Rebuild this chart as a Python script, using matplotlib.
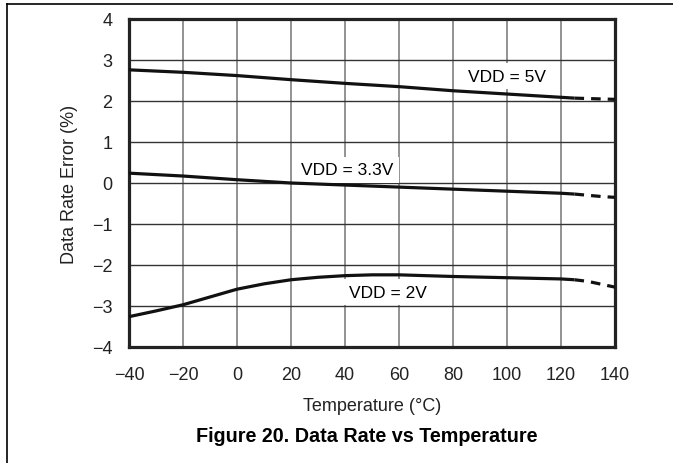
import matplotlib
matplotlib.use("Agg")
import matplotlib.pyplot as plt
from matplotlib.lines import Line2D

plt.rcParams['font.family'] = ['Liberation Sans', 'DejaVu Sans']

# measured data rate error (%) vs temperature (C)
temp_5v = [-40, -20, 0, 20, 40, 60, 80, 100, 120, 125]
err_5v = [2.76, 2.70, 2.62, 2.52, 2.43, 2.35, 2.25, 2.17, 2.09, 2.07]
temp_5v_ext = [125, 140]
err_5v_ext = [2.07, 2.04]

temp_33v = [-40, -20, 0, 20, 40, 60, 80, 100, 120, 125]
err_33v = [0.24, 0.17, 0.08, 0.0, -0.05, -0.10, -0.15, -0.20, -0.25, -0.27]
temp_33v_ext = [125, 130, 135, 140]
err_33v_ext = [-0.27, -0.30, -0.33, -0.35]

temp_2v = [-40, -30, -20, -10, 0, 10, 20, 30, 40, 50, 60, 70, 80, 100, 120, 125]
err_2v = [-3.26, -3.12, -2.97, -2.78, -2.59, -2.46, -2.36, -2.30, -2.26,
          -2.24, -2.24, -2.26, -2.28, -2.31, -2.34, -2.36]
temp_2v_ext = [125, 130, 135, 140]
err_2v_ext = [-2.36, -2.40, -2.47, -2.54]

xticks = list(range(-40, 141, 20))
yticks = list(range(-4, 5))

fig = plt.figure(figsize=(6.73, 4.64), dpi=100)
ax = fig.add_axes([0.1917, 0.25, 0.7221, 0.7069])

ax.set_xlim(-40, 140)
ax.set_ylim(-4, 4)
ax.set_xticks(xticks)
ax.set_yticks(yticks)
ax.set_xticklabels([str(t).replace('-', '\u2212') for t in xticks])
ax.set_yticklabels([str(t).replace('-', '\u2212') for t in yticks])
ax.tick_params(length=0, labelsize=13, colors='#222222')
ax.tick_params(axis='x', pad=14)
ax.tick_params(axis='y', pad=12)

ax.grid(True, axis='x', color='#8a8a8a', lw=1.3)
ax.grid(True, axis='y', color='#333333', lw=1.0)
ax.set_axisbelow(True)
for s in ax.spines.values():
    s.set_linewidth(2.3)
    s.set_color('#222222')

for tx, ey, tx2, ey2 in [(temp_5v, err_5v, temp_5v_ext, err_5v_ext),
                         (temp_33v, err_33v, temp_33v_ext, err_33v_ext),
                         (temp_2v, err_2v, temp_2v_ext, err_2v_ext)]:
    ax.plot(tx, ey, color='#111111', lw=2.3, solid_capstyle='butt', zorder=3)
    ax.plot(tx2, ey2, color='#111111', lw=2.3, dashes=(3, 2.2), zorder=3)

box = dict(facecolor='white', edgecolor='none', pad=4)
ax.text(100, 2.6, 'VDD = 5V', fontsize=12.5, ha='center', va='center', bbox=box, zorder=2)
ax.text(40.7, 0.32, 'VDD = 3.3V', fontsize=12.5, ha='center', va='center', bbox=box, zorder=2)
ax.text(56, -2.66, 'VDD = 2V', fontsize=12.5, ha='center', va='center', bbox=box, zorder=2)

ax.set_xlabel('Temperature (\u00b0C)', fontsize=13, labelpad=10, color='#222222')
ax.set_ylabel('Data Rate Error (%)', fontsize=13, labelpad=10, color='#222222')

fig.text(0.545, 1 - 437 / 464, 'Figure 20. Data Rate vs Temperature',
         fontsize=14.2, fontweight='bold', ha='center', va='center')

# page frame lines
fig.add_artist(Line2D([7 / 673, 7 / 673], [0, 1 - 5 / 464], color='black', lw=1.2))
fig.add_artist(Line2D([7 / 673, 1], [1 - 5 / 464, 1 - 5 / 464], color='black', lw=1.2))

fig.savefig('out.png', dpi=100)
